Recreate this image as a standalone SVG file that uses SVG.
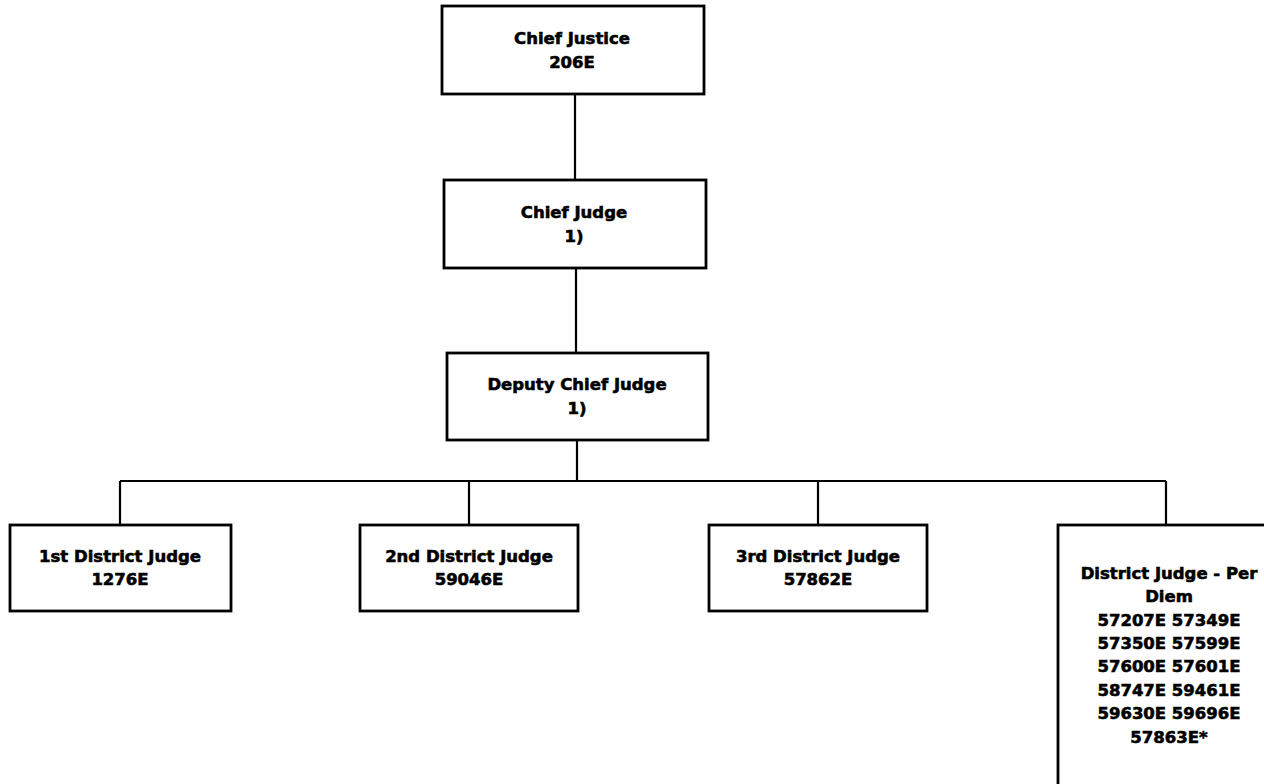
<svg xmlns="http://www.w3.org/2000/svg" width="1264" height="784" viewBox="0 0 1264 784">
  <style>
    .box { fill: #ffffff; stroke: #000000; stroke-width: 2.8; }
    .lbl { font-family: "DejaVu Sans", "Liberation Sans", sans-serif; font-weight: bold; font-size: 16.5px; fill: #000000; stroke: #000000; stroke-width: 0.6; text-anchor: middle; }
    .conn { fill: none; stroke: #000000; stroke-width: 2.2; }
  </style>
  <rect x="0" y="0" width="1264" height="784" fill="#ffffff"/>
  <g id="connectors">
    <line class="conn" x1="575" y1="94" x2="575" y2="180"/>
    <line class="conn" x1="576" y1="268" x2="576" y2="353"/>
    <line class="conn" x1="577" y1="440" x2="577" y2="481"/>
    <line class="conn" x1="120" y1="481" x2="1166" y2="481"/>
    <line class="conn" x1="120" y1="481" x2="120" y2="525"/>
    <line class="conn" x1="469" y1="481" x2="469" y2="525"/>
    <line class="conn" x1="818" y1="481" x2="818" y2="525"/>
    <line class="conn" x1="1166" y1="481" x2="1166" y2="525"/>
  </g>
  <g id="chief-justice">
    <rect class="box" x="442" y="6" width="262" height="88"/>
    <text class="lbl" x="572" y="44">Chief Justice</text>
    <text class="lbl" x="572" y="68">206E</text>
  </g>
  <g id="chief-judge">
    <rect class="box" x="444" y="180" width="262" height="88"/>
    <text class="lbl" x="574" y="218">Chief Judge</text>
    <text class="lbl" x="574" y="242">1)</text>
  </g>
  <g id="deputy-chief-judge">
    <rect class="box" x="447" y="353" width="261" height="87"/>
    <text class="lbl" x="577" y="390">Deputy Chief Judge</text>
    <text class="lbl" x="577" y="414">1)</text>
  </g>
  <g id="district-judge-1">
    <rect class="box" x="10" y="525" width="221" height="86"/>
    <text class="lbl" x="120" y="562">1st District Judge</text>
    <text class="lbl" x="120" y="585">1276E</text>
  </g>
  <g id="district-judge-2">
    <rect class="box" x="360" y="525" width="218" height="86"/>
    <text class="lbl" x="469" y="562">2nd District Judge</text>
    <text class="lbl" x="469" y="585">59046E</text>
  </g>
  <g id="district-judge-3">
    <rect class="box" x="709" y="525" width="218" height="86"/>
    <text class="lbl" x="818" y="562">3rd District Judge</text>
    <text class="lbl" x="818" y="585">57862E</text>
  </g>
  <g id="district-judge-per-diem">
    <rect class="box" x="1058" y="525" width="220" height="264"/>
    <text class="lbl" x="1169" y="579">District Judge - Per</text>
    <text class="lbl" x="1169" y="602">Diem</text>
    <text class="lbl" x="1169" y="626">57207E 57349E</text>
    <text class="lbl" x="1169" y="649">57350E 57599E</text>
    <text class="lbl" x="1169" y="672">57600E 57601E</text>
    <text class="lbl" x="1169" y="696">58747E 59461E</text>
    <text class="lbl" x="1169" y="719">59630E 59696E</text>
    <text class="lbl" x="1169" y="743">57863E*</text>
  </g>
</svg>
